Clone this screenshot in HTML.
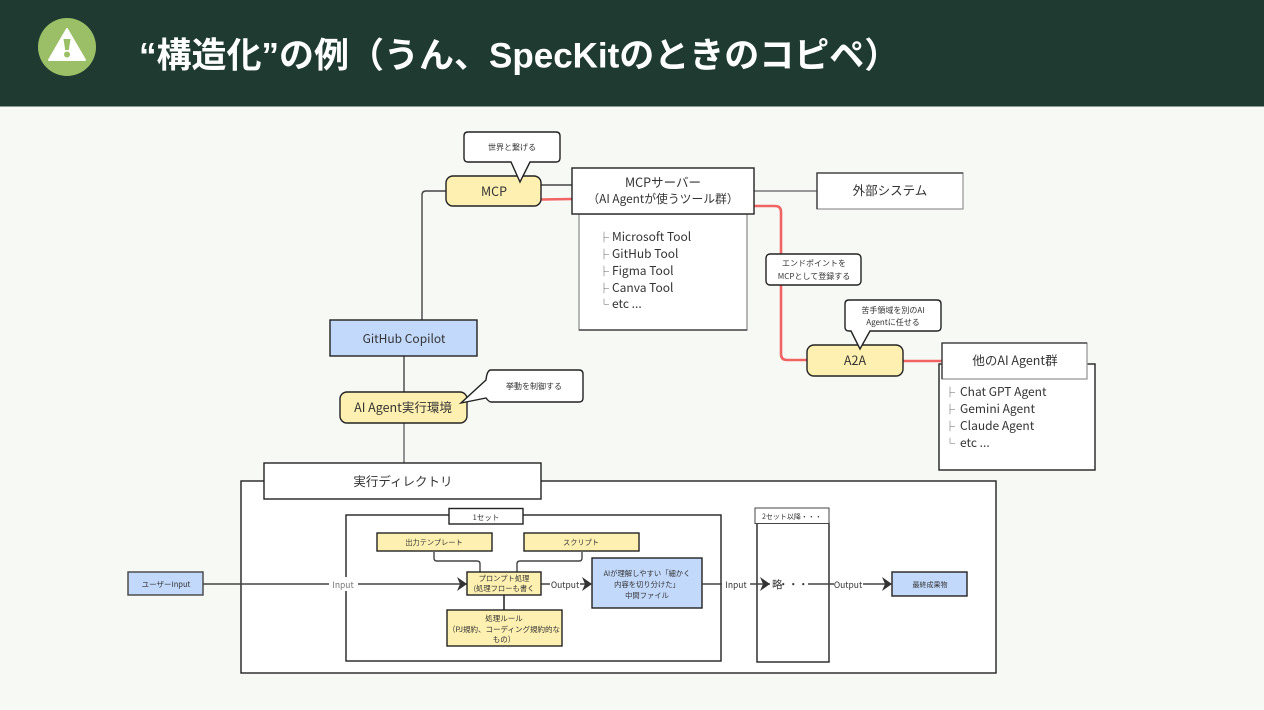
<!DOCTYPE html>
<html lang="ja">
<head>
<meta charset="utf-8">
<title>構造化の例</title>
<style>
html,body{margin:0;padding:0;background:#f7f9f5;}
body{width:1264px;height:710px;overflow:hidden;position:relative;}
svg{position:absolute;left:0;top:0;display:block;}
.d text{font-family:"Noto Sans CJK JP","Liberation Sans",sans-serif;fill:#333;text-anchor:middle;}
.d .l text,.d text.s{text-anchor:start;}
.box{stroke:#222;stroke-width:1.4;fill:#fff;}
.y{fill:#fdf0b0;}
.b{fill:#c2d9fb;}
.ln{stroke:#444;stroke-width:1.4;fill:none;}
.red{stroke:#f26464;stroke-width:2.6;fill:none;}
.ar{fill:#333;}
</style>
</head>
<body>
<svg width="1264" height="710" viewBox="0 0 1264 710" xmlns="http://www.w3.org/2000/svg">
<rect width="1264" height="710" fill="#f7f9f5"/>
<rect width="1264" height="106" fill="#1f3b31"/>
<rect y="106" width="1264" height="1" fill="#8a9a90"/>
<circle cx="67" cy="47" r="29" fill="#9bbf66"/>
<path d="M67 29 L85 60 H49 Z" fill="#fff" stroke="#fff" stroke-width="2" stroke-linejoin="round"/>
<path d="M63.500 39 H70.500 L68.800 50 H65.200 Z" fill="#9bbf66"/>
<circle cx="67" cy="54.500" r="3" fill="#9bbf66"/>
<text x="139" y="67.500" font-family="'Liberation Sans','Noto Sans CJK JP',sans-serif" font-weight="700" font-size="35" fill="#fff">“構造化”の例（うん、SpecKitのときのコピペ）</text>

<g class="d">
<!-- connectors -->
<path class="ln" d="M446 191 H426 Q422 191 422 195 V320"/>
<path class="ln" d="M541 185 H572"/>
<path class="ln" d="M754 191 H817" style="stroke:#777"/>
<path class="ln" d="M404 356 V392"/>
<path class="ln" d="M404 423 V463" style="stroke:#666"/>
<path class="red" d="M541 199.500 L572 199"/>
<path class="red" d="M754 206 H775 Q781 206 781 212 V354 Q781 360 787 360 H807"/>
<path class="red" d="M903 361 H942"/>

<!-- MCP -->
<rect class="box y" x="446" y="176" width="95" height="30" rx="7"/>
<text x="494" y="196" font-size="12.500">MCP</text>
<path class="box" d="M468 132 H556 Q560 132 560 136 V158 Q560 162 556 162 H530 L520 182 L511 162 H468 Q464 162 464 158 V136 Q464 132 468 132 Z"/>
<text x="512" y="150" font-size="8">世界と繋げる</text>

<!-- MCP server -->
<rect x="579" y="214" width="168" height="116" fill="#fff" stroke="#999" stroke-width="1.400"/>
<path d="M579 330 H747" stroke="#333" stroke-width="1.200"/>
<rect class="box" x="572" y="168" width="182" height="46"/>
<text x="663" y="187" font-size="12.500">MCPサーバー</text>
<text x="663" y="203" font-size="11.800">（AI Agentが使うツール群）</text>
<g class="l" font-size="12">
<text x="599" y="241" font-size="10">├</text><text x="612" y="241">Microsoft Tool</text>
<text x="599" y="258" font-size="10">├</text><text x="612" y="258">GitHub Tool</text>
<text x="599" y="275" font-size="10">├</text><text x="612" y="275">Figma Tool</text>
<text x="599" y="292" font-size="10">├</text><text x="612" y="292">Canva Tool</text>
<text x="599" y="308" font-size="10">└</text><text x="612" y="308">etc ...</text>
</g>

<!-- external -->
<rect x="817" y="173" width="146" height="36" fill="#fff" stroke="#999" stroke-width="1.300"/>
<path d="M817 209 V173 H963" fill="none" stroke="#333" stroke-width="1.300"/>
<text x="890" y="195" font-size="12.500">外部システム</text>

<!-- endpoint label -->
<rect class="box" x="766" y="254" width="95" height="31" rx="4"/>
<text x="814" y="266" font-size="8">エンドポイントを</text>
<text x="814" y="279" font-size="8">MCPとして登録する</text>

<!-- A2A -->
<rect class="box y" x="807" y="345" width="96" height="31" rx="7"/>
<text x="855" y="365" font-size="12.500">A2A</text>
<path class="box" d="M849 300 H937 Q941 300 941 304 V327 Q941 331 937 331 H870 L860 349 L851 331 H849 Q845 331 845 327 V304 Q845 300 849 300 Z"/>
<text x="893" y="313" font-size="8">苦手領域を別のAI</text>
<text x="893" y="325" font-size="8">Agentに任せる</text>

<!-- other agents -->
<rect class="box" x="939" y="364" width="156" height="106"/>
<rect x="942" y="343" width="145" height="36" fill="#fff" stroke="#999" stroke-width="1.300"/>
<path d="M942 379 V343 H1087" fill="none" stroke="#333" stroke-width="1.300"/>
<text x="1015" y="365" font-size="12.500">他のAI Agent群</text>
<g class="l" font-size="12">
<text x="945" y="396" font-size="10">├</text><text x="960" y="396">Chat GPT Agent</text>
<text x="945" y="413" font-size="10">├</text><text x="960" y="413">Gemini Agent</text>
<text x="945" y="430" font-size="10">├</text><text x="960" y="430">Claude Agent</text>
<text x="945" y="447" font-size="10">└</text><text x="960" y="447">etc ...</text>
</g>

<!-- Copilot -->
<rect class="box b" x="330" y="320" width="147" height="36"/>
<text x="404" y="343" font-size="12">GitHub Copilot</text>

<!-- AI Agent env -->
<rect class="box y" x="340" y="392" width="127" height="31" rx="7"/>
<text x="403" y="412" font-size="12.500">AI Agent実行環境</text>
<path class="box" d="M491 370 H579 Q583 370 583 374 V398 Q583 402 579 402 H491 Q489 402 486 398 L461 403 L486 380 Q487 370 491 370 Z"/>
<text x="534" y="389" font-size="8">挙動を制御する</text>

<!-- Outer dir -->
<rect class="box" x="241" y="481" width="755" height="192"/>
<rect class="box" x="264" y="463" width="277" height="36"/>
<text x="403" y="486" font-size="12.500">実行ディレクトリ</text>

<!-- inner set -->
<rect class="box" x="346" y="515" width="375" height="146"/>
<rect class="box" x="449" y="508.500" width="74" height="15.500"/>
<text x="486" y="520" font-size="7.500">1セット</text>

<path class="ln" d="M434 552 V558 Q434 561 437 561 H477 Q480 561 480 564 V572"/>
<path class="ln" d="M582 552 V558 Q582 561 579 561 H520 Q517 561 517 564 V572"/>
<path class="ln" d="M504 595 V610" style="stroke-width:1.800"/>

<rect class="box y" x="377" y="533" width="115" height="18"/>
<text x="434" y="545" font-size="7.200">出力テンプレート</text>
<rect class="box y" x="524" y="533" width="115" height="18"/>
<text x="581" y="545" font-size="7.200">スクリプト</text>

<!-- flow -->
<path class="ln" d="M203 584 H467"/>
<path class="ln" d="M541 584 H590"/>
<rect x="329" y="577" width="29" height="14" fill="#fff"/>
<text x="343" y="588" font-size="8.500" style="fill:#777">Input</text>
<rect x="550" y="577" width="30" height="14" fill="#fff"/>
<text x="565" y="588" font-size="8.500">Output</text>

<rect class="box y" x="467" y="572" width="74" height="23"/>
<text x="504" y="581" font-size="7.300">プロンプト処理</text>
<text x="504" y="591" font-size="7.300">(処理フローも書く</text>
<path class="ar" d="M457 577 L467 584 L457 591 L460 584 Z"/>
<path class="ar" d="M582 577 L592 584 L582 591 L585 584 Z"/>

<rect class="box y" x="447" y="610" width="115" height="36"/>
<text x="504" y="621" font-size="7.500">処理ルール</text>
<text x="504" y="632" font-size="7.500">（PJ規約、コーディング規約的な</text>
<text x="504" y="642" font-size="7.500">もの）</text>

<rect class="box b" x="592" y="558" width="110" height="50"/>
<text x="647" y="576" font-size="7.300">AIが理解しやすい「細かく</text>
<text x="647" y="587" font-size="7.300">内容を切り分けた」</text>
<text x="647" y="598" font-size="7.300">中間ファイル</text>

<!-- set 2 -->
<rect x="757" y="523" width="72" height="139" fill="#fff" stroke="#222" stroke-width="1.400"/>
<rect x="755" y="508" width="74" height="15.500" fill="#fff" stroke="#444" stroke-width="1"/>
<text x="792" y="519" font-size="7">2セット以降・・・</text>

<path class="ln" d="M702 584 H770"/>
<rect x="722" y="577" width="28" height="14" fill="#fff"/>
<text x="736" y="588" font-size="8.500">Input</text>
<path class="ar" d="M760 577 L770 584 L760 591 L763 584 Z"/>
<text class="s" x="772 778 788 798" y="588" font-size="10.500">略・・・</text>
<path class="ln" d="M808 584 H890"/>
<rect x="834" y="577" width="29" height="14" fill="#fff"/>
<text x="848" y="588" font-size="8.500">Output</text>
<path class="ar" d="M882 577 L892 584 L882 591 L885 584 Z"/>

<rect class="box b" x="892" y="572" width="75" height="24"/>
<text x="930" y="587" font-size="7">最終成果物</text>

<rect class="box b" x="128" y="572" width="75" height="23" style="stroke:#444"/>
<text x="166" y="587" font-size="7.500">ユーザーInput</text>
</g>
</svg>
</body>
</html>
